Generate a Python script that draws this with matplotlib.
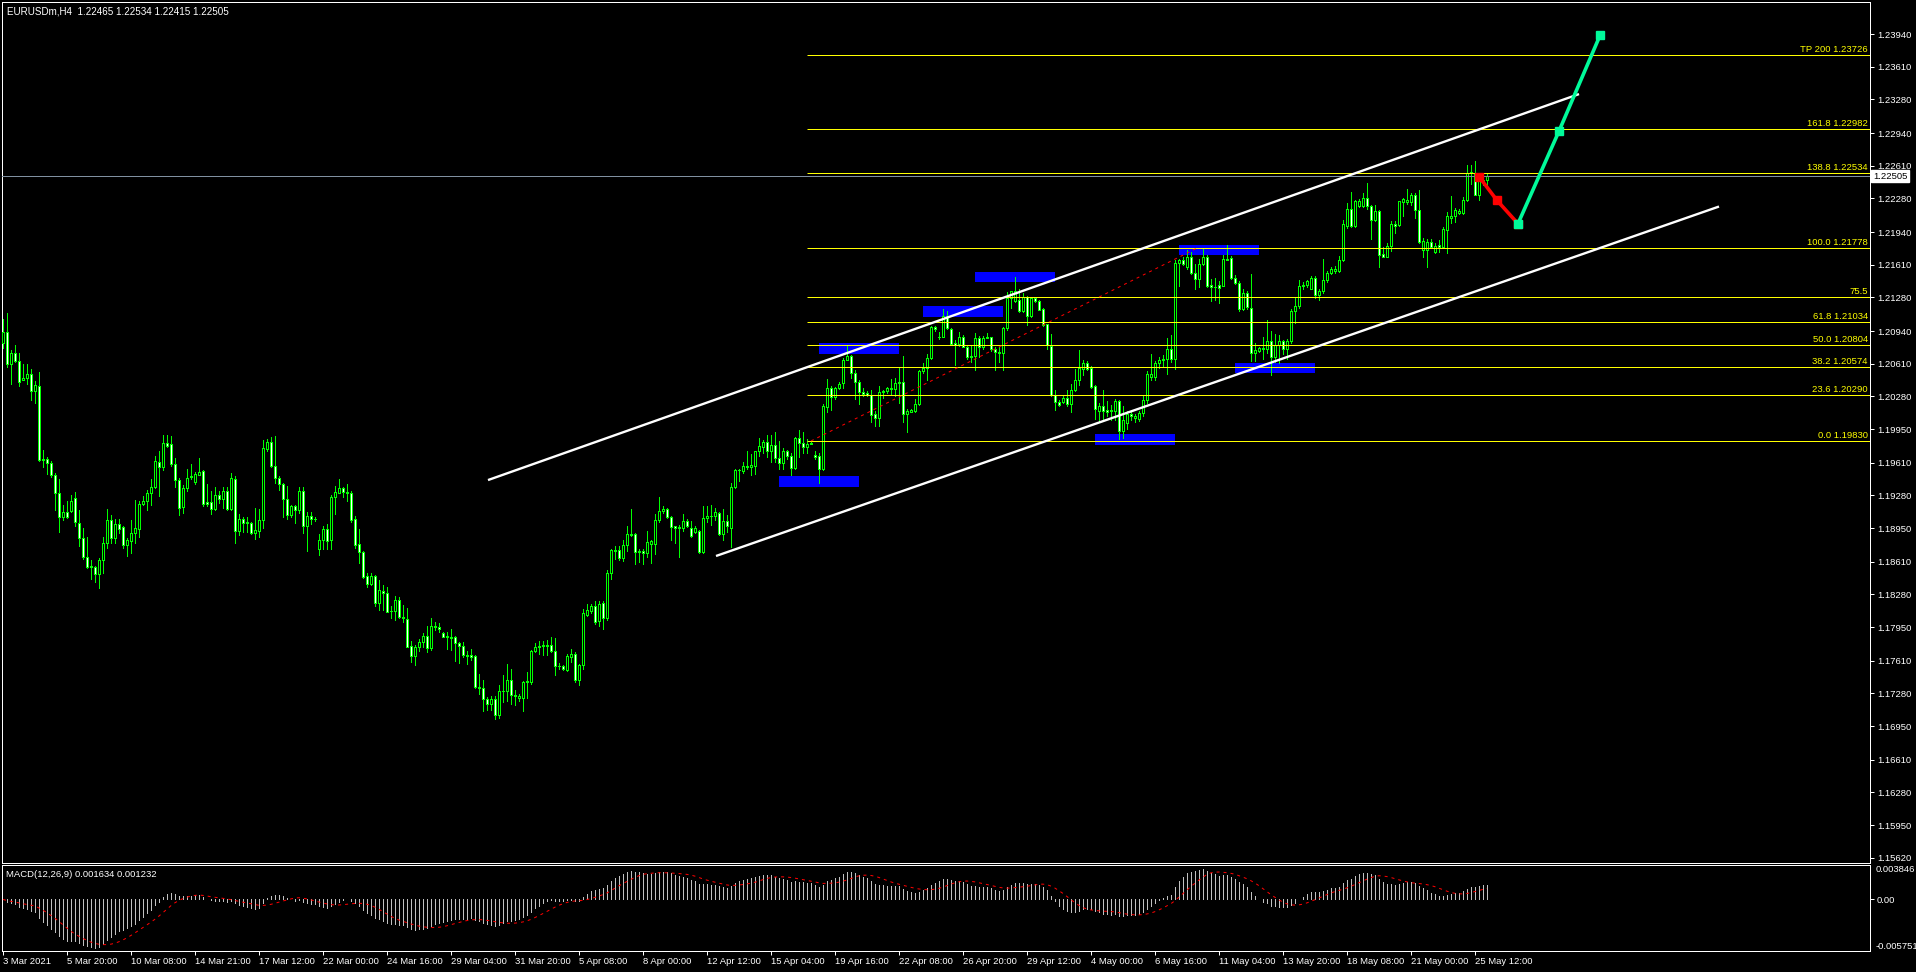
import numpy as np
import pandas as pd
import matplotlib
matplotlib.use("Agg")
import matplotlib.pyplot as plt
from matplotlib.patches import Rectangle

plt.rcParams['font.family'] = ['Liberation Sans', 'DejaVu Sans']

# ---------------- data (prices x 1e4) ----------------
opens = [
12082,12093,12061,12072,12064,12045,12047,12051,12033,12039,
11965,11965,11961,11949,11930,11906,11911,11912,11925,11900,
11885,11866,11857,11856,11849,11863,11880,11903,11885,11899,
11896,11878,11882,11890,11894,11919,11922,11930,11937,11962,
11957,11981,11980,11960,11944,11916,11935,11948,11942,11949,
11953,11921,11921,11914,11928,11924,11932,11914,11945,11892,
11904,11901,11900,11890,11892,11903,11975,11982,11958,11946,
11940,11924,11908,11917,11913,11932,11897,11907,11904,11874,
11883,11894,11883,11926,11930,11935,11931,11930,11904,11879,
11871,11847,11839,11847,11819,11831,11829,11811,11811,11822,
11805,11803,11776,11766,11775,11780,11786,11774,11796,11795,
11789,11786,11785,11785,11779,11776,11767,11767,11766,11734,
11733,11722,11717,11722,11706,11730,11730,11742,11726,11723,
11723,11740,11740,11771,11775,11776,11776,11777,11771,11756,
11756,11752,11765,11768,11742,11757,11807,11811,11816,11801,
11819,11804,11850,11873,11873,11865,11878,11889,11889,11872,
11872,11870,11879,11879,11903,11912,11914,11906,11897,11895,
11895,11902,11895,11891,11892,11871,11905,11907,11907,11910,
11889,11902,11895,11937,11954,11953,11958,11957,11958,11973,
11977,11982,11973,11979,11966,11961,11973,11968,11956,11986,
11981,11977,11980,11969,11968,11955,12017,12036,12027,12036,
12042,12065,12069,12052,12043,12032,12031,12029,12010,12006,
12032,12033,12035,12035,12042,12043,12010,12012,12013,12020,
12054,12057,12067,12098,12088,12088,12109,12096,12082,12081,
12088,12078,12069,12069,12087,12078,12087,12088,12076,12073,
12072,12097,12127,12124,12125,12114,12128,12109,12127,12124,
12116,12101,12079,12029,12022,12022,12026,12020,12034,12045,
12056,12062,12057,12039,12013,12018,12014,12013,12013,12023,
11993,12001,12010,12006,12005,12011,12024,12048,12048,12062,
12065,12066,12076,12066,12163,12166,12159,12169,12153,12147,
12162,12169,12141,12139,12141,12140,12167,12168,12148,12143,
12116,12132,12117,12072,12074,12077,12076,12084,12068,12080,
12084,12076,12084,12114,12119,12140,12141,12136,12148,12130,
12134,12146,12153,12155,12155,12166,12200,12217,12200,12220,
12220,12228,12220,12206,12215,12172,12169,12180,12202,12201,
12224,12224,12224,12231,12216,12176,12176,12184,12174,12181,
12179,12196,12208,12210,12213,12213,12226,12254,12254,12231,
12247,12246.5]
highs = [
12106,12112,12075,12080,12072,12061,12061,12056,12044,12053,
11974,11967,11963,11951,11945,11918,11922,11928,11931,11913,
11895,11886,11863,11857,11865,11886,11914,11908,11904,11904,
11897,11885,11903,11923,11922,11927,11933,11945,11968,11973,
11989,11989,11988,11966,11946,11939,11955,11960,11952,11966,
11954,11940,11932,11936,11932,11937,11937,11951,11948,11909,
11906,11906,11901,11915,11914,11984,11985,11987,11988,11948,
11941,11938,11918,11918,11936,11936,11911,11911,11906,11889,
11897,11899,11928,11938,11945,11937,11940,11932,11907,11894,
11872,11850,11850,11848,11843,11838,11835,11816,11826,11825,
11817,11814,11781,11777,11783,11789,11796,11804,11800,11799,
11790,11790,11793,11786,11780,11780,11771,11773,11767,11748,
11742,11724,11725,11725,11737,11747,11758,11753,11731,11727,
11741,11750,11772,11779,11781,11781,11782,11785,11784,11759,
11757,11768,11773,11770,11758,11813,11818,11818,11821,11821,
11821,11853,11874,11877,11877,11883,11897,11914,11890,11874,
11874,11892,11883,11909,11926,11917,11915,11907,11897,11898,
11909,11904,11902,11897,11893,11917,11917,11918,11915,11911,
11914,11908,11941,11955,11955,11962,11973,11970,11973,11986,
11984,11989,11989,11992,11983,11976,11974,11971,11987,11994,
11992,11985,11983,11973,11971,12020,12046,12039,12038,12043,
12067,12079,12070,12055,12045,12036,12033,12034,12013,12039,
12034,12038,12046,12047,12058,12069,12015,12015,12025,12055,
12062,12071,12099,12099,12093,12116,12114,12097,12085,12093,
12090,12079,12079,12092,12089,12089,12092,12088,12078,12078,
12098,12133,12134,12149,12136,12132,12129,12128,12128,12125,
12117,12101,12091,12034,12024,12029,12034,12041,12056,12075,
12065,12064,12059,12040,12021,12034,12023,12019,12025,12024,
12018,12013,12012,12010,12013,12028,12054,12071,12064,12068,
12070,12087,12090,12166,12167,12169,12176,12174,12162,12167,
12178,12171,12147,12148,12145,12171,12181,12170,12151,12145,
12137,12134,12152,12082,12078,12088,12105,12094,12091,12090,
12085,12086,12116,12128,12146,12144,12146,12150,12150,12136,
12167,12155,12159,12160,12170,12206,12223,12234,12226,12227,
12233,12244,12221,12221,12216,12179,12183,12205,12205,12225,
12228,12238,12233,12233,12237,12188,12187,12187,12183,12186,
12199,12214,12230,12218,12217,12229,12262,12262,12266,12251,
12250,12253.4]
lows = [
12077,12058,12041,12063,12039,12045,12041,12024,12021,11963,
11957,11950,11947,11913,11891,11903,11905,11911,11897,11877,
11864,11855,11844,11841,11834,11850,11875,11880,11880,11890,
11875,11867,11870,11880,11886,11918,11913,11918,11935,11927,
11954,11977,11958,11936,11908,11910,11932,11945,11940,11949,
11917,11917,11909,11913,11920,11915,11913,11913,11880,11888,
11891,11891,11889,11884,11886,11895,11973,11957,11941,11933,
11906,11904,11906,11900,11910,11890,11872,11899,11902,11868,
11874,11874,11874,11909,11930,11926,11922,11901,11875,11860,
11845,11835,11838,11816,11812,11812,11810,11804,11802,11804,
11800,11775,11760,11757,11771,11775,11770,11772,11792,11790,
11785,11773,11772,11761,11759,11765,11758,11762,11733,11727,
11710,11711,11711,11702,11703,11719,11720,11717,11716,11720,
11710,11723,11738,11770,11768,11767,11767,11770,11747,11753,
11752,11751,11760,11740,11736,11753,11806,11809,11798,11796,
11793,11802,11844,11864,11863,11862,11872,11887,11859,11861,
11859,11866,11860,11869,11901,11910,11905,11883,11880,11866,
11892,11896,11886,11890,11870,11870,11901,11898,11903,11888,
11883,11891,11876,11935,11943,11951,11955,11949,11950,11968,
11971,11967,11962,11962,11955,11955,11965,11949,11955,11967,
11971,11971,11980,11965,11941,11954,12012,12014,12025,12035,
12036,12065,12047,12025,12020,12028,12028,12002,11998,11998,
12026,12031,12030,12028,12021,12002,11992,12012,12012,12019,
12052,12045,12066,12094,12086,12088,12096,12080,12060,12079,
12078,12066,12063,12055,12068,12076,12087,12074,12055,12063,
12055,12095,12117,12123,12113,12113,12100,12108,12123,12115,
12099,12076,12028,12014,12018,12021,12018,12012,12033,12040,
12050,12055,12037,12005,12002,12003,12008,12004,12004,11985,
11986,11995,12004,12002,12003,12008,12021,12045,12045,12057,
12058,12051,12063,12056,12140,12161,12157,12152,12136,12139,
12161,12139,12124,12125,12122,12140,12166,12147,12142,12114,
12115,12116,12064,12064,12073,12066,12072,12050,12063,12062,
12071,12066,12082,12102,12117,12136,12139,12136,12127,12125,
12132,12144,12152,12153,12154,12165,12198,12199,12199,12219,
12219,12217,12187,12205,12159,12169,12169,12175,12193,12200,
12210,12222,12221,12208,12183,12169,12159,12179,12173,12174,
12179,12173,12203,12204,12212,12212,12225,12243,12231,12226,
12242,12241.5]
closes = [
12093,12061,12072,12064,12043,12047,12051,12033,12040,11964,
11964,11961,11949,11930,11906,11911,11906,11922,11901,11885,
11866,11856,11856,11849,11863,11880,11903,11885,11899,11894,
11878,11883,11890,11895,11919,11922,11930,11937,11963,11957,
11981,11978,11960,11944,11915,11935,11946,11947,11950,11952,
11919,11919,11914,11928,11924,11932,11914,11946,11892,11904,
11900,11900,11890,11893,11903,11976,11982,11958,11946,11940,
11924,11908,11917,11913,11932,11897,11907,11904,11904,11883,
11894,11882,11926,11931,11935,11931,11930,11903,11878,11871,
11846,11839,11847,11819,11832,11829,11810,11811,11822,11805,
11804,11775,11766,11775,11780,11786,11774,11796,11795,11793,
11785,11785,11784,11779,11776,11767,11766,11765,11734,11733,
11722,11717,11722,11706,11730,11730,11742,11726,11725,11725,
11740,11741,11771,11775,11776,11777,11777,11771,11756,11756,
11753,11766,11768,11742,11757,11809,11812,11816,11800,11818,
11804,11850,11873,11872,11865,11878,11889,11888,11871,11871,
11870,11881,11882,11903,11912,11914,11906,11896,11895,11896,
11902,11897,11887,11895,11871,11905,11907,11907,11911,11889,
11902,11897,11937,11954,11954,11958,11957,11959,11973,11978,
11982,11973,11979,11966,11961,11973,11968,11956,11986,11981,
11977,11980,11981,11967,11955,12018,12036,12027,12036,12041,
12065,12069,12052,12043,12032,12030,12029,12009,12006,12032,
12033,12036,12036,12042,12043,12010,12013,12014,12020,12054,
12057,12067,12098,12096,12088,12109,12097,12081,12080,12088,
12078,12068,12068,12087,12078,12087,12088,12076,12073,12072,
12097,12127,12134,12134,12114,12128,12109,12127,12124,12115,
12100,12080,12029,12022,12019,12026,12020,12034,12045,12057,
12062,12056,12038,12015,12018,12013,12012,12014,12023,11993,
12004,12010,12008,12008,12011,12024,12051,12051,12062,12065,
12066,12076,12066,12163,12166,12162,12169,12153,12147,12162,
12169,12140,12139,12139,12138,12167,12166,12148,12143,12116,
12132,12118,12072,12075,12077,12076,12084,12068,12080,12084,
12076,12084,12114,12119,12140,12141,12145,12148,12130,12134,
12146,12153,12157,12157,12166,12202,12217,12200,12225,12225,
12228,12220,12206,12215,12171,12169,12180,12202,12200,12225,
12227,12226,12231,12216,12184,12185,12184,12179,12180,12179,
12197,12210,12210,12216,12215,12226,12254,12255,12231,12247,
12246,12250.5]

date_labels = ["3 Mar 2021", "5 Mar 20:00", "10 Mar 08:00", "14 Mar 21:00", "17 Mar 12:00",
               "22 Mar 00:00", "24 Mar 16:00", "29 Mar 04:00", "31 Mar 20:00", "5 Apr 08:00",
               "8 Apr 00:00", "12 Apr 12:00", "15 Apr 04:00", "19 Apr 16:00", "22 Apr 08:00",
               "26 Apr 20:00", "29 Apr 12:00", "4 May 00:00", "6 May 16:00", "11 May 04:00",
               "13 May 20:00", "18 May 08:00", "21 May 00:00", "25 May 12:00"]
date_bars = [16 * k for k in range(len(date_labels))]

price_ticks = [1.23940, 1.23610, 1.23280, 1.22940, 1.22610, 1.22280, 1.21940, 1.21610, 1.21280,
               1.20940, 1.20610, 1.20280, 1.19950, 1.19610, 1.19280, 1.18950, 1.18610, 1.18280,
               1.17950, 1.17610, 1.17280, 1.16950, 1.16610, 1.16280, 1.15950, 1.15620]

fib_labels = ["TP 200 1.23726", "161.8 1.22982", "138.8 1.22534", "100.0 1.21778", "75.5",
              "61.8 1.21034", "50.0 1.20804", "38.2 1.20574", "23.6 1.20290", "0.0 1.19830"]
fib_prices = [1.23726, 1.22982, 1.22534, 1.21778, 1.21282, 1.21034, 1.20804, 1.20574, 1.20290, 1.19830]
fib_start_bar = 201
fib_trend_bars = [202, 298.5]
fib_trend_prices = [1.19830, 1.21778]

zone_start = [194, 204, 230, 243, 273, 294, 308]
zone_end = [214, 224, 250, 263, 293, 314, 328]
zone_low = [1.19365, 1.20711, 1.21082, 1.21439, 1.19790, 1.21708, 1.20513]
zone_high = [1.19476, 1.20816, 1.21193, 1.21537, 1.19900, 1.21809, 1.20614]

chan_upper_bars = [121.25, 394]
chan_upper_prices = [1.19435, 1.23334]
chan_lower_bars = [178.25, 429]
chan_lower_prices = [1.18668, 1.22198]

path_red_bars = [369, 373.5, 378.75]
path_red_prices = [1.22500, 1.22260, 1.22025]
path_green_bars = [378.75, 389, 399.25]
path_green_prices = [1.22025, 1.22960, 1.23926]

last_price = 1.22505
header = "EURUSDm,H4  1.22465 1.22534 1.22415 1.22505"
macd_title = "MACD(12,26,9) 0.001634 0.001232"
macd_max, macd_min = 0.003846, -0.005751

# ---------------- figure ----------------
W, H = 1916, 972
PX = 0.72
FS = 6.8
fig = plt.figure(figsize=(W / 100, H / 100), dpi=100, facecolor='black')


def box(x0, y0, x1, y1):
    return [x0 / W, 1 - y1 / H, (x1 - x0) / W, (y1 - y0) / H]


ax = fig.add_axes(box(2, 2, 1870, 863), facecolor='black')
ax2 = fig.add_axes(box(2, 865, 1870, 951), facecolor='black')
XL = (-0.25, 466.75)

o = np.array(opens, float) / 1e4
h = np.array(highs, float) / 1e4
l = np.array(lows, float) / 1e4
c = np.array(closes, float) / 1e4
h = np.maximum(h, np.maximum(o, c))
l = np.minimum(l, np.minimum(o, c))
idx = np.arange(len(c))

# zones (background)
for x0, x1, lo, hi in zip(zone_start, zone_end, zone_low, zone_high):
    ax.add_patch(Rectangle((x0, lo), x1 - x0, hi - lo, facecolor='#0000FF', edgecolor='none',
                           antialiased=False, zorder=1))

# candles
ax.vlines(idx, l, h, colors='#00FF00', linewidth=PX, antialiased=False, zorder=2)
bull = c >= o
bot = np.minimum(o, c)
ht = np.abs(c - o)
ax.bar(idx[bull], ht[bull], bottom=bot[bull], width=0.5, facecolor='black', edgecolor='#00FF00',
       linewidth=PX, antialiased=False, zorder=3)
ax.bar(idx[~bull], ht[~bull], bottom=bot[~bull], width=0.5, facecolor='white', edgecolor='#00FF00',
       linewidth=PX, antialiased=False, zorder=3)

# current price line
ax.axhline(last_price, color='#8090A0', lw=PX, zorder=4)

# fibonacci
ax.hlines(fib_prices, fib_start_bar, XL[1], colors='#FFFF00', lw=PX, zorder=4)
for lab, p in zip(fib_labels, fib_prices):
    ax.annotate(lab, xy=(1, p), xycoords=('axes fraction', 'data'), xytext=(-2, 1),
                textcoords='offset pixels', ha='right', va='bottom', color='#FFFF00',
                fontsize=FS, zorder=6)
ax.plot(fib_trend_bars, fib_trend_prices, color='#FF0000', lw=PX, ls=(0, (3, 4)), zorder=5)

# channel
ax.plot(chan_upper_bars, chan_upper_prices, color='white', lw=1.7, zorder=5, solid_capstyle='butt')
ax.plot(chan_lower_bars, chan_lower_prices, color='white', lw=1.7, zorder=5, solid_capstyle='butt')

# projected path
ax.plot(path_red_bars, path_red_prices, color='#FF0000', lw=2.6, marker='s', ms=5.5,
        solid_capstyle='butt', zorder=7)
ax.plot(path_green_bars, path_green_prices, color='#00FA9A', lw=2.6, marker='s', ms=5.5,
        solid_capstyle='butt', zorder=7)

ax.set_xlim(*XL)
ax.set_ylim(1.15567, 1.24264)
ax.set_xticks([])
ax.yaxis.tick_right()
ax.set_yticks(price_ticks)
ax.set_yticklabels([f"{v:.5f}" for v in price_ticks])
ax.tick_params(axis='y', colors='white', labelcolor='white', length=3, width=PX, pad=2,
               labelsize=FS)
for s in ax.spines.values():
    s.set_color('white')
    s.set_linewidth(PX)

# price box
ax.text(1.0015, last_price, "1.22505", transform=ax.get_yaxis_transform(), color='black',
        fontsize=FS, va='center', ha='left', zorder=10, clip_on=False,
        bbox=dict(facecolor='white', edgecolor='white', pad=1.2))

fig.text(7 / W, 1 - 11 / H, header, color='white', fontsize=FS + 0.3, va='center', ha='left')

# ---------------- MACD ----------------
cs = pd.Series(c)
macd = cs.ewm(span=12, adjust=False).mean() - cs.ewm(span=26, adjust=False).mean()
sig = macd.rolling(9, min_periods=1).mean()
ax2.vlines(idx, 0, macd.values, colors='#C0C0C0', lw=PX, antialiased=False, zorder=2)
ax2.plot(idx, sig.values, color='#FF0000', lw=PX, ls=(0, (3, 4)), zorder=3)
ax2.set_xlim(*XL)
ax2.set_ylim(macd_min, macd_max)
ax2.yaxis.tick_right()
ax2.set_yticks([0.0])
ax2.set_yticklabels(["0.00"])
ax2.tick_params(axis='y', colors='white', labelcolor='white', length=3, width=PX, pad=2,
                labelsize=FS)
ax2.set_xticks(date_bars)
ax2.set_xticklabels(date_labels)
ax2.tick_params(axis='x', colors='white', labelcolor='white', length=3, width=PX, pad=1.5,
                labelsize=FS)
for lbl in ax2.get_xticklabels():
    lbl.set_horizontalalignment('left')
for s in ax2.spines.values():
    s.set_color('white')
    s.set_linewidth(PX)
ax2.text(1.003, 1.0, f"{macd_max:.6f}", transform=ax2.transAxes, color='white', fontsize=FS,
         va='top', ha='left', clip_on=False)
ax2.text(1.003, 0.0, f"{macd_min:.6f}", transform=ax2.transAxes, color='white', fontsize=FS,
         va='bottom', ha='left', clip_on=False)
ax2.text(4 / 1868, 1 - 9 / 86, macd_title, transform=ax2.transAxes, color='white', fontsize=FS,
         va='center', ha='left')

fig.savefig('out.png', dpi=100, facecolor='black')
